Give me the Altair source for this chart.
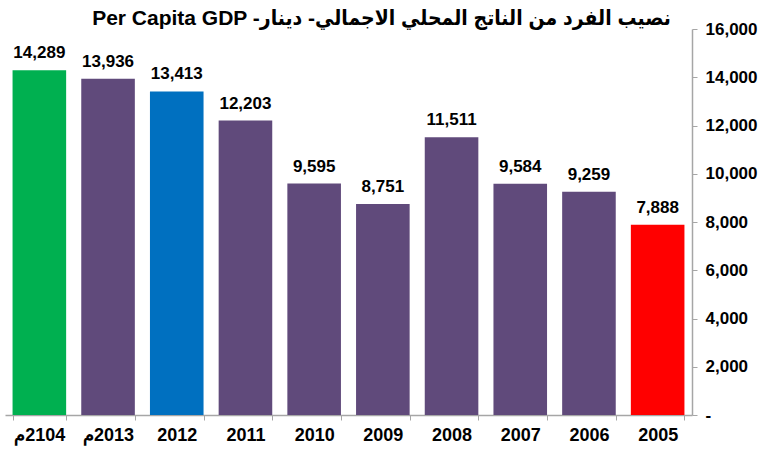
import altair as alt
import pandas as pd

years = ["م\u200e2104", "م\u200e2013", "2012", "2011", "2010", "2009", "2008", "2007", "2006", "2005"]
values = [14289, 13936, 13413, 12203, 9595, 8751, 11511, 9584, 9259, 7888]
colors = ["#00B050", "#604A7B", "#0070C0", "#604A7B", "#604A7B", "#604A7B",
          "#604A7B", "#604A7B", "#604A7B", "#FF0000"]

df = pd.DataFrame({"year": years, "value": values, "color": colors})

FONT = "Liberation Sans"

x = alt.X("year:N", sort=years, title=None,
          scale=alt.Scale(paddingInner=0.22, paddingOuter=0.11),
          axis=alt.Axis(labelAngle=0, labelFont=FONT, labelFontSize=18, labelFontWeight="bold",
                        labelColor="black", labelPadding=6, tickBand="extent", tickSize=5,
                        tickColor="#A6A6A6", domainColor="#A6A6A6", domainWidth=1.5))
y = alt.Y("value:Q", title=None,
          scale=alt.Scale(domain=[0, 16000]),
          axis=alt.Axis(orient="right", values=list(range(0, 16001, 2000)),
                        labelExpr="datum.value == 0 ? '-' : format(datum.value, ',')",
                        labelFont=FONT, labelFontSize=17, labelFontWeight="bold",
                        labelColor="black", labelPadding=8, tickSize=5,
                        tickColor="#A6A6A6", domainColor="#A6A6A6", domainWidth=1.5,
                        grid=False))

bars = alt.Chart(df).mark_bar().encode(
    x=x, y=y, color=alt.Color("color:N", scale=None)
)
labels = alt.Chart(df).mark_text(
    dy=-17, font=FONT, fontSize=17, fontWeight="bold", color="black"
).encode(
    x=alt.X("year:N", sort=years), y="value:Q", text=alt.Text("value:Q", format=",")
)

chart = (bars + labels).properties(
    width=687, height=386,
    title=alt.Title("Per Capita GDP -نصيب الفرد من الناتج المحلي الاجمالي- دينار",
                    font="Liberation Sans, DejaVu Sans Condensed", fontSize=21,
                    fontWeight="bold", color="black",
                    anchor="middle", dx=33, dy=13, offset=4),
    autosize=alt.AutoSizeParams(type="none"),
    padding={"left": 5, "top": 29, "right": 70, "bottom": 35},
    background="white",
).configure_view(stroke=None)

chart.save("out.html", embed_options={"renderer": "svg", "actions": False})
